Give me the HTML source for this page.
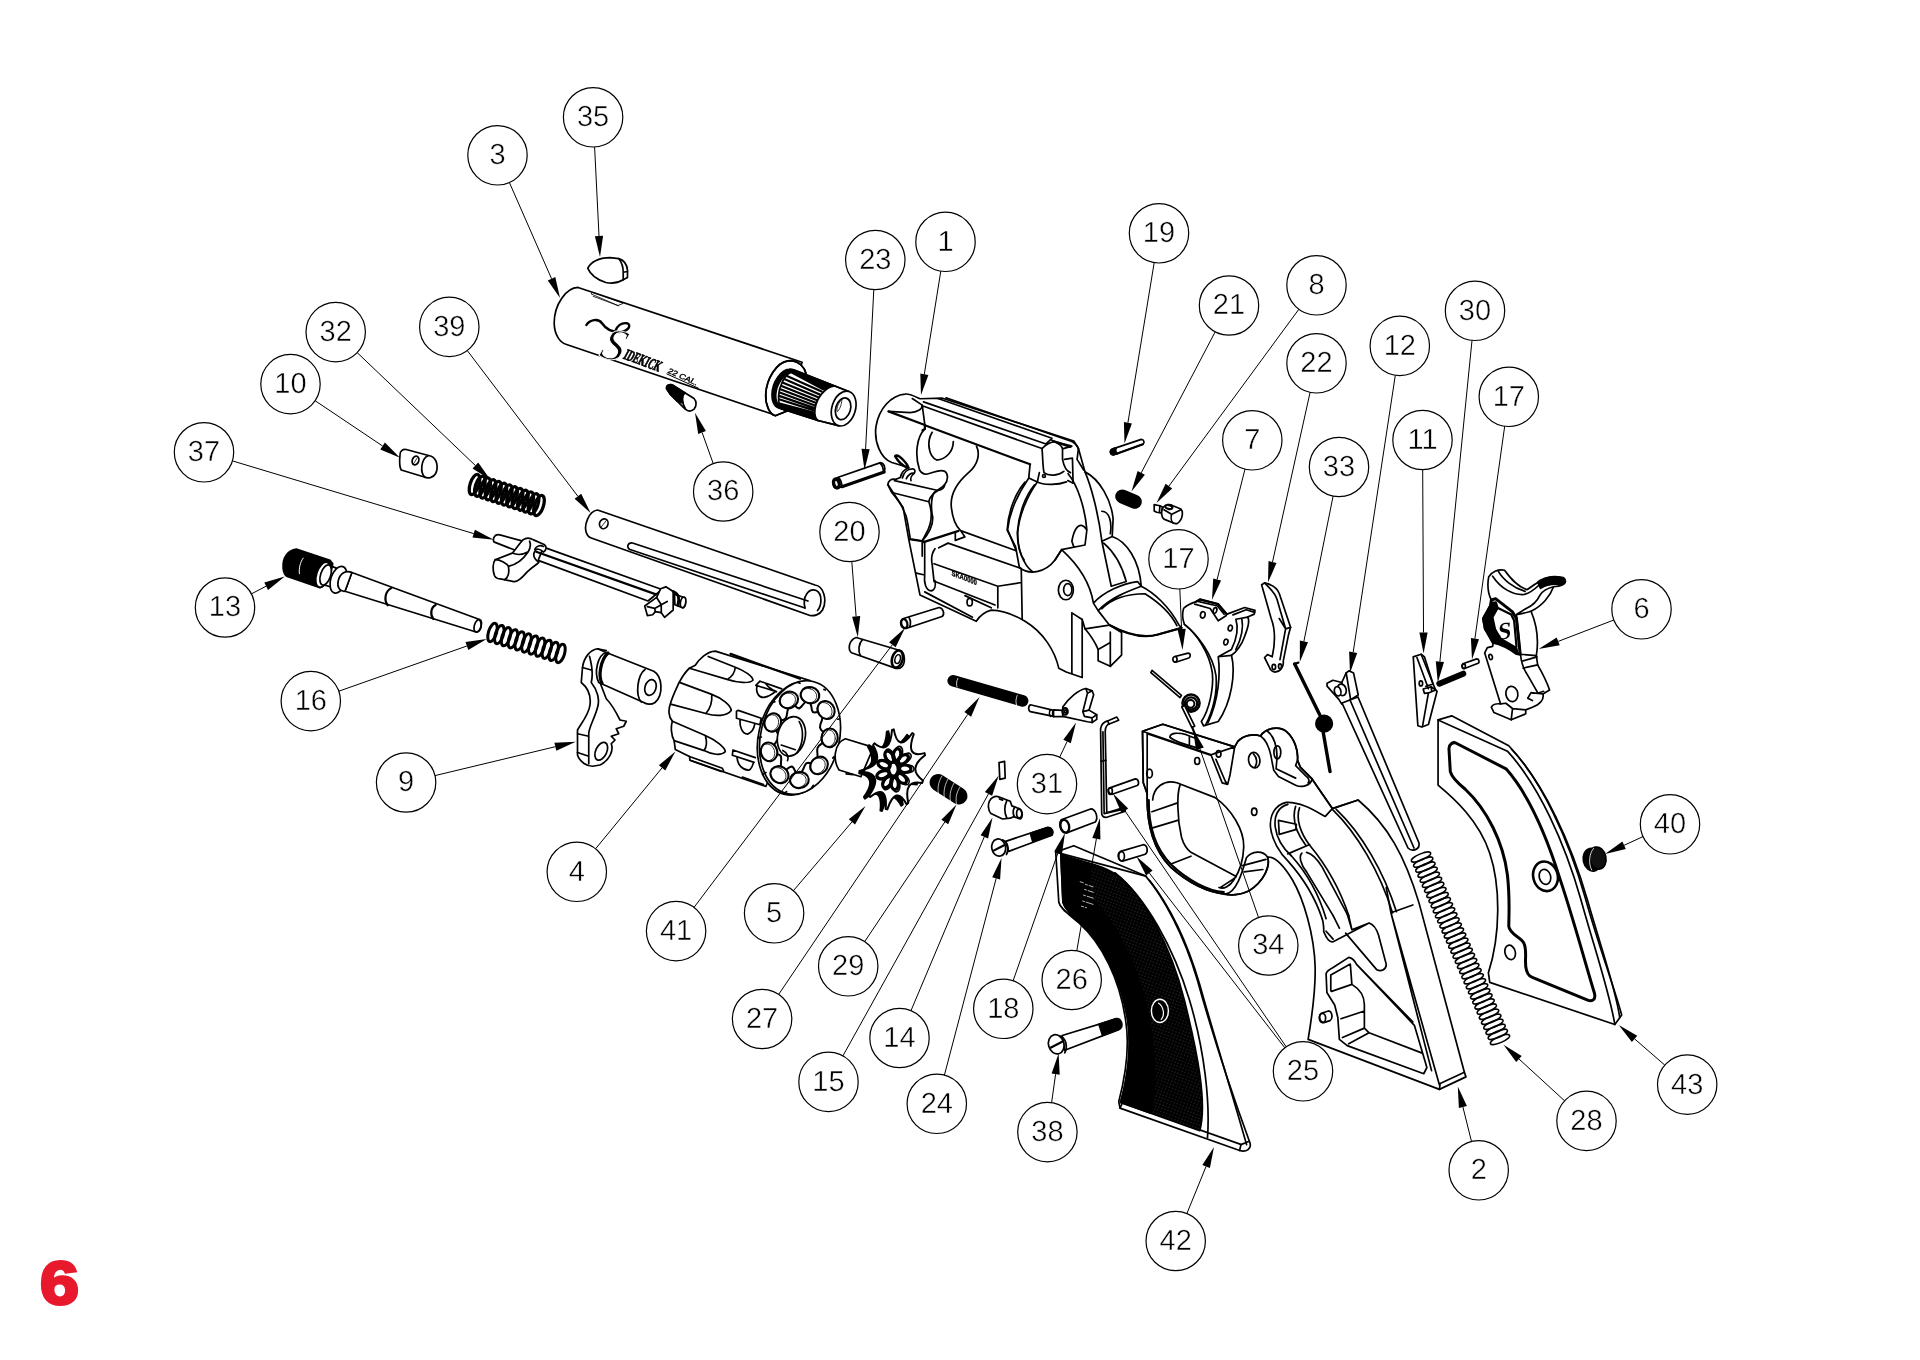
<!DOCTYPE html>
<html lang="en"><head><meta charset="utf-8"><title>Exploded view - page 6</title>
<style>
html,body{margin:0;padding:0;background:#fff}
body{width:1920px;height:1360px;overflow:hidden;position:relative;font-family:"Liberation Sans",sans-serif}
svg{position:absolute;left:0;top:0;display:block;filter:grayscale(1)}
.p path,.p ellipse,.p circle,.p line,.p polyline,.p polygon,.p rect{vector-effect:non-scaling-stroke}
.p{fill:none;stroke:#000;stroke-width:1.7;stroke-linejoin:round;stroke-linecap:round}
.p .w{fill:#fff}
.p .k{fill:#000}
.p .t{stroke-width:.8}
.p .h{stroke-width:2.2}
.ld line{stroke:#000;stroke-width:1}
.ld polygon{fill:#000;stroke:none}
.co{opacity:.999}
.co circle{fill:#fff;stroke:#000;stroke-width:1.2}
text{text-rendering:geometricPrecision}
.co text{font-family:"Liberation Sans",sans-serif;font-size:29px;fill:#000;text-anchor:middle;stroke:#fff;stroke-width:.45}
.pg{position:absolute;left:39.5px;top:1251.5px;font:bold 62px/1 "Liberation Sans",sans-serif;color:#e8192c;-webkit-text-stroke:3px #e8192c;transform:scaleX(1.13);transform-origin:0 0}
</style></head><body>
<svg width="1920" height="1360" viewBox="0 0 1920 1360">

<!-- 01_frame.svg -->
<g class="p" transform="translate(860,380) scale(0.1875)">
<!-- 1 frame silhouette -->
<path class="w" d="M240,75 C265,72 295,88 320,100 L440,97 L1140,325 L1165,365 L1200,490 C1280,530 1340,640 1350,740 L1345,835 C1420,860 1490,960 1500,1100 C1570,1135 1650,1210 1700,1305 L1715,1322 L1590,1357 C1500,1385 1400,1345 1330,1307 L1395,1347 L1395,1467 L1335,1527 L1270,1497 L1270,1437 C1250,1390 1220,1350 1200,1327 L1185,1277 L1185,1587 L1100,1557 L1060,1537 C1040,1447 980,1347 880,1287 C820,1250 760,1228 700,1227 C670,1235 640,1255 620,1287 L320,1147 L260,850 L230,680 L150,560 C148,540 165,525 190,530 L215,520 C220,495 240,475 262,468 L170,440 C110,420 75,330 85,250 C100,150 170,80 240,75 Z"/>
<path d="M262,850 L345,862 L345,1040 M300,1030 L345,1040 C340,1080 350,1120 380,1125 C400,1120 405,1095 400,1070"/>
<!-- recoil shield -->
<path d="M880,545 C830,600 790,700 785,800 L830,890 L850,1000 C900,1040 985,1032 1040,960 L1075,905 L1200,880 M930,560 C880,620 845,720 840,810 C840,900 870,985 920,1022 M1110,500 C1160,560 1200,680 1210,800 L1200,880 M1200,490 C1230,560 1270,700 1290,860 L1345,835 M1210,800 C1170,740 1140,800 1130,860 L1140,890 M1290,700 C1330,700 1345,760 1335,820"/>
<path d="M1290,860 L1340,1100 L1420,1075 C1400,1000 1370,930 1300,870"/>
<!-- lower block -->
<path d="M470,870 L860,1005 L865,1275 M400,900 C385,920 378,950 385,985 L395,1075 M395,980 L735,1100 L860,1080 M735,1100 L735,1215 M400,1075 L720,1200 M345,1130 L600,1265 M560,1150 L700,1215 M420,895 L470,870"/>
<ellipse cx="585" cy="1185" rx="14" ry="20"/>
<!-- right side plate -->
<path d="M1075,905 C1180,1000 1230,1100 1245,1190 L1270,1230 C1340,1160 1420,1130 1500,1100 M1040,960 L1075,905 M1245,1190 C1300,1130 1400,1085 1480,1075 L1500,1100 M1270,1230 L1330,1307 M1290,1220 C1350,1160 1440,1140 1520,1140 C1600,1190 1660,1250 1690,1310"/>
<path class="h" d="M1330,1307 C1400,1345 1500,1385 1590,1357 L1715,1322"/>
<ellipse cx="1098" cy="1120" rx="40" ry="52"/><ellipse cx="1108" cy="1118" rx="22" ry="32"/>
<!-- lugs -->
<path d="M1130,1242 L1185,1277 M1130,1242 L1130,1565 M1200,1327 L1330,1307 M1335,1345 L1335,1527 M1270,1437 L1335,1400"/>
</g>
<g class="p" transform="translate(860,380) scale(0.13236)">
<!-- upper frame detail (U coords) -->
<path d="M395,140 L470,190 C472,220 430,245 380,247 L215,237"/>
<path class="h" d="M215,237 L490,340 L490,370 L472,380"/>
<path d="M470,190 L490,340 M650,135 L1600,465 C1630,480 1645,500 1650,520 M590,140 L1450,440 M480,165 L1405,483 M470,195 L1375,518"/>
<path class="h" d="M490,342 L1285,637"/>
<path d="M1375,518 C1380,560 1380,650 1390,700 C1430,730 1500,722 1540,690 M1375,518 C1400,490 1440,470 1470,465 M1440,450 L1470,465 L1600,500 M1405,483 L1440,450 M1650,520 L1640,600 L1690,680 M1530,520 L1530,600 C1540,650 1560,690 1590,700 M1545,600 L1605,590 L1610,780 L1570,760 M1470,465 C1500,480 1525,500 1530,520 L1600,500"/>
<path class="h" d="M1460,462 L1590,505"/>
<path d="M1285,637 L1275,740 L1340,770 L1355,700 M1340,770 C1380,790 1480,800 1560,770"/>
<circle cx="1390" cy="725" r="11"/>
<path d="M490,370 C430,430 410,560 450,680 C460,700 480,710 500,712 C560,700 600,670 640,690 C670,710 665,760 640,790 C620,820 580,830 560,850 C530,900 540,1000 550,1040 C550,1100 520,1160 470,1215"/>
<path d="M545,395 C500,470 520,580 580,605 C650,600 705,540 705,465 M520,500 l6,22"/>
<path d="M880,500 C910,560 890,640 820,700 C740,770 680,860 690,960 C700,1060 730,1110 760,1138 L1180,1290 M720,1150 L720,1212 L792,1185 L760,1138"/>
<path class="h" d="M480,1225 L745,1140"/>
<path d="M1275,740 C1200,850 1130,1000 1115,1130 L1180,1290 M1340,770 C1260,880 1200,1030 1190,1160 C1190,1250 1210,1320 1240,1360"/>
<path style="stroke-width:2.4" d="M265,575 C280,560 310,585 340,620 C365,650 370,665 355,660 C330,650 290,620 265,575 Z"/>
<path d="M320,740 C330,700 360,670 400,672 C415,675 420,690 410,705 C390,720 380,745 385,760 M350,745 C360,720 385,700 410,705"/>
<path d="M260,760 L590,835 C620,830 640,810 640,790 M210,790 L240,850 L520,920 C520,890 560,850 590,835 M240,850 C300,920 350,1000 360,1080 L380,1200 M520,920 C545,990 545,1080 500,1160 L470,1215 M380,1200 L470,1215 L470,1330"/>
</g>
<text transform="translate(951.5,575.5) rotate(21) skewX(18)" textLength="27" lengthAdjust="spacingAndGlyphs" style="font:bold 7.2px 'Liberation Sans',sans-serif;fill:#000;stroke:#000;stroke-width:.3">SKA0000</text>

<!-- 02_gripframe.svg -->
<g class="p" transform="translate(1130,700) scale(0.15625)">
<!-- silhouette fill -->
<path class="w" d="M80,200 L210,155 L670,300 L690,265 C730,225 790,215 835,230 C870,175 960,165 1005,205 C1050,245 1078,320 1072,385 L1090,430 L1165,505 L1295,695 L1460,640 C1650,800 1760,1000 1850,1300 L2140,2382 L2150,2412 L1980,2492 L1140,2172 C1160,2052 1188,1852 1185,1712 C1180,1502 1110,1272 1040,1152 C990,1070 930,1000 880,1005 C900,1060 860,1160 760,1222 C700,1250 640,1250 610,1242 C500,1235 370,1170 260,1070 C150,960 105,800 110,600 L85,530 Z"/>
<!-- trigger guard opening (white already) -->
<path d="M110,600 C105,800 150,960 260,1070 C370,1170 500,1235 610,1242 C680,1235 720,1100 745,1010 C780,965 850,960 880,1005 C900,1060 860,1160 760,1222 C700,1250 640,1250 600,1242"/>
<path class="h" d="M120,640 C118,800 160,950 265,1055 C370,1155 500,1222 600,1230"/>
<path d="M145,640 C150,560 220,505 300,530 L545,625 C650,700 730,830 728,940 C725,1020 700,1100 665,1150 C640,1190 600,1215 570,1200 M320,545 C300,600 300,750 330,880 C345,930 370,960 390,975 L680,1130 M140,715 L300,660 M140,820 L305,770 M262,1050 L390,1000 M720,1060 L870,1020 M730,1100 L850,1085 M580,1200 C620,1170 660,1150 680,1130"/>
<!-- front box -->
<path d="M80,200 L210,155 L670,300 L640,480 L625,540 L590,530 L520,355 L110,215 M80,200 L520,350 L560,335 M80,200 L85,530 L110,600 M110,215 L110,600 M520,350 L670,300 M550,380 L610,520 L625,540"/>
<path d="M255,238 C258,212 300,205 360,222 L430,250 L440,300 M380,232 L380,290 M255,238 C275,260 330,280 440,310"/>
<ellipse cx="430" cy="390" rx="16" ry="22"/><ellipse cx="567" cy="345" rx="15" ry="21"/><ellipse cx="125" cy="470" rx="18" ry="28"/>
<!-- ears + slot -->
<path d="M670,300 L690,265 C730,225 790,215 835,230 C880,260 900,330 910,400 L920,450 L950,490 L1060,545 C1090,560 1140,555 1160,520 L1165,505 M835,230 C870,175 960,165 1005,205 C1050,245 1078,320 1072,385 L1090,430 L1165,505 M880,200 C920,230 945,300 940,380 L935,440 M1072,385 L1060,420 L1130,490 C1145,500 1150,520 1140,530 M935,440 L1060,500"/>
<ellipse cx="795" cy="385" rx="36" ry="50" transform="rotate(-8 795 385)"/><path d="M790,345 C815,370 815,405 800,430"/>
<ellipse cx="943" cy="335" rx="22" ry="42"/>
<ellipse cx="795" cy="715" rx="17" ry="23"/>
<!-- grip straps upper -->
<path d="M1165,505 L1295,695 L1460,640 M1250,745 L1295,695 M1000,655 C1100,650 1200,720 1250,745 M1000,655 C930,670 890,740 900,820 C910,900 960,980 1010,1030 C1100,1130 1180,1250 1230,1400 M1010,668 C945,685 920,745 930,815 C940,890 985,955 1035,1000 C1125,1100 1205,1230 1255,1400 M1085,690 C1060,760 1090,850 1150,930 C1250,1050 1340,1200 1400,1380 M1060,680 C1035,760 1065,850 1125,930 M1300,705 C1450,850 1600,1100 1680,1362 M1320,700 C1480,850 1625,1100 1705,1355 M950,770 L955,860 L1060,830 L1065,795 Z M1010,985 L1150,925"/>
<path d="M1100,980 C1080,1000 1090,1050 1130,1100 L1300,1380 M1130,975 C1170,985 1200,1020 1230,1070 L1390,1370"/>
<!-- lower part (H coords shifted) -->
<path d="M1670,1362 L1810,1312 M1670,1362 L1980,2462 M1640,1200 L1670,1362 L1930,2372 M1980,2492 L1985,2455 L2140,2382 M1240,1482 C1260,1532 1280,1552 1300,1547 L1530,1427 C1560,1437 1580,1472 1590,1502 L1640,1692 C1640,1722 1610,1742 1580,1727 L1380,1492 M1255,1480 L1300,1530 M1530,1427 L1420,1470 L1400,1380 M1230,1400 C1240,1430 1240,1460 1240,1482 M1300,1380 L1340,1460 M1390,1370 L1420,1470"/>
<path d="M1255,1752 C1260,1732 1280,1722 1300,1712 L1400,1647 C1430,1652 1440,1672 1450,1692 L1820,2082 L1900,2352 L1880,2392 L1390,2212 L1340,2172 L1330,2032 L1310,1952 L1260,1872 Z M1285,1760 L1410,1690 L1420,1820 C1470,1850 1500,1890 1500,1950 L1500,2100 L1530,2130 L1870,2260 M1420,1820 L1290,1865 M1500,1990 L1350,2040 M1500,2100 L1360,2160 M1450,1692 L1810,2060 M1530,2130 L1400,2200 M1285,1760 L1285,1860"/>
<path class="w" d="M1225,2005 L1270,1990 C1295,1992 1300,2040 1280,2052 L1240,2065 C1210,2060 1205,2015 1225,2005 Z"/><ellipse cx="1232" cy="2035" rx="20" ry="30"/>
</g>

<!-- 03_barrel.svg -->
<g class="p" transform="translate(540,240) scale(0.17708)">
<!-- 35 front sight -->
<path class="w" d="M270,160 C285,125 330,100 395,100 L445,105 C475,115 492,140 494,170 L494,212 L470,224 C440,242 400,246 372,240 C325,225 285,195 270,160 Z"/>
<path d="M445,105 C460,125 470,150 470,182 L470,224 M470,182 L494,178"/>
<!-- 3 barrel body -->
<path class="w" d="M215,268 C150,270 80,360 80,470 C82,540 115,580 150,590 L1330,990 L1400,962 L1480,690 Z"/>
<path d="M290,305 L440,370 L470,358 L300,296 Z M300,318 L445,372" class="t"/>
<!-- logo script -->
<path style="stroke-width:2.4" d="M262,480 C280,450 330,440 350,470 C370,500 400,520 450,520 C500,515 520,480 490,470 C460,465 435,485 425,515"/>
<!-- 36 detent -->
<path class="w" d="M715,840 C712,820 735,812 750,820 L870,895 C885,910 885,940 870,955 C855,968 835,968 820,955 L735,870 Z"/>
<path class="k" d="M715,840 C712,820 735,812 750,820 L815,862 C800,872 795,900 805,920 L775,910 L735,870 Z"/>
<path d="M818,862 C800,880 800,920 822,955"/>
</g>
<g class="p" transform="translate(740,340) scale(0.07353)">
<!-- barrel shoulder + thread, 13.6x coords -->
<path class="w" d="M650,285 C500,310 360,520 350,740 C345,880 400,1010 480,1030 L640,965 L900,460 C880,370 800,290 700,280 Z"/>
<path d="M650,285 C500,310 360,520 350,740 C345,880 400,1010 480,1030 L640,965 M650,285 L700,280 C800,290 880,370 900,460"/>
<path class="k" d="M760,420 C720,395 690,392 670,397 C560,410 440,560 435,740 C435,850 480,920 560,935 L640,965 L560,900 C510,880 483,830 485,750 C490,600 600,450 700,440 Z"/>
<path class="w" d="M740,410 L1290,625 C1150,640 1040,800 1020,940 C1010,1020 1030,1070 1060,1095 L560,935 C540,910 522,850 525,760 C530,640 600,480 690,440 Z"/>
<path class="k" d="M690,440 L760,418 L1290,625 L1130,672 Z M540,862 L560,935 L1060,1095 L1005,985 Z"/>
<path class="h" d="M640,490 L1110,700 M610,535 L1085,740 M585,580 L1065,780 M565,625 L1050,820 M550,670 L1038,858 M540,715 L1028,895 M533,760 L1022,930 M530,805 L1018,960"/>
<path class="w" d="M1290,625 L1480,700 L1340,1165 L1060,1095 C1030,1070 1010,1020 1020,940 C1040,800 1150,640 1290,625 Z"/>
<path d="M1290,625 L1480,700 M1060,1095 L1340,1165"/>
<ellipse class="w" cx="1410" cy="932" rx="160" ry="243" transform="rotate(17 1410 932)"/>
<ellipse cx="1402" cy="935" rx="100" ry="152" transform="rotate(17 1402 935)"/>
<path d="M1385,810 C1340,850 1310,920 1320,975 C1350,960 1385,880 1385,810 Z" class="t"/>
</g>
<text transform="translate(622.6,358.2) rotate(20.5) skewX(-8)" textLength="38.5" lengthAdjust="spacingAndGlyphs" style="font:bold 15.5px 'Liberation Serif',serif;fill:#000;stroke:#000;stroke-width:.8">IDEKICK</text>
<text transform="translate(667,372.6) rotate(24) skewX(-8)" textLength="32" lengthAdjust="spacingAndGlyphs" style="font:7.6px 'Liberation Sans',sans-serif;fill:#000;stroke:#000;stroke-width:.35">22 CAL.</text>
<path d="M666.5,373.8 L698.5,388.2" style="stroke:#000;stroke-width:1"/>
<text transform="translate(598,356.5) rotate(14) skewX(-6)" style="font:italic 46px 'Liberation Serif',serif;fill:#000;stroke:#fff;stroke-width:.9">S</text>

<!-- 04_cyl.svg -->
<g class="p" transform="translate(660,640) scale(0.11765)">
<!-- 4 cylinder body (C coords) -->
<path class="w" d="M470,95 C400,98 335,160 300,215 L250,240 C215,270 190,310 162,362 C135,420 100,490 88,545 C70,590 70,650 105,690 C90,740 95,810 120,855 L130,930 L250,990 L255,1022 L900,1245 L1275,345 Z"/>
<path d="M410,140 L640,232 C720,262 790,310 790,342 C760,372 660,365 570,335 L250,240 M640,232 C635,285 600,320 570,335"/>
<path d="M165,360 L440,462 C530,495 605,560 605,600 C570,650 470,650 390,625 L90,545 M440,462 C445,530 420,590 390,625"/>
<path d="M105,690 L385,812 C470,850 555,910 555,950 C520,985 440,975 375,940 L120,855 M385,812 C400,860 395,910 375,940"/>
<path class="h" d="M600,118 L1190,330"/>
<path d="M250,990 L530,1090 L540,1112 M255,1022 L520,1118 M700,1165 L880,1228"/>
<path d="M850,350 L1035,415 M815,385 L850,350 M815,385 L990,440 M825,392 C812,440 835,490 885,488 C930,478 965,452 985,436 M900,372 C920,400 940,420 985,436"/>
<path d="M650,605 L665,598 L860,665 L850,720 L650,665 Z M680,680 C675,740 700,800 745,800 C790,780 800,750 805,715"/>
<path d="M620,935 L810,1000 M620,935 L615,980 L800,1040 M655,1000 C660,1060 700,1110 760,1105 C780,1090 790,1060 795,1040"/>
</g>

<!-- 06_hammer.svg -->
<g class="p" transform="translate(1400,555) scale(0.13236)">
<!-- 11 -->
<path class="w" d="M100,770 L160,750 L185,770 L250,975 L270,1020 L280,1030 L215,1280 L165,1300 L135,1290 Z"/>
<path d="M128,775 L215,1010 M160,750 L250,975 L195,992 M175,1012 L235,995 L270,1020 L215,1042 L185,1046 Z M215,1042 L170,1295 M235,995 L240,1030"/>
<ellipse cx="158" cy="970" rx="13" ry="19"/>
<!-- 30 -->
<path d="M297,972 L478,897" style="stroke-width:6"/>
<!-- 17 -->
<path class="w" d="M475,822 L580,785 C598,785 602,810 590,818 L488,858 C468,858 462,832 475,822 Z"/><ellipse cx="482" cy="840" rx="12" ry="18"/>
<!-- 6 hammer -->
<path class="w" d="M670,165 C690,130 740,105 790,115 C830,170 880,235 960,262 C1010,225 1070,180 1140,165 C1200,158 1252,175 1250,202 C1245,228 1200,236 1160,240 C1135,310 1075,385 990,425 C1030,520 1050,640 1030,760 L1040,830 C1080,900 1110,960 1130,1020 L1080,1050 C1090,1090 1060,1130 1000,1150 L950,1170 L950,1200 L840,1245 L710,1190 L690,1150 C700,1130 730,1120 760,1125 L640,740 L660,700 L700,690 L705,655 L640,560 L625,480 L680,380 L690,340 C660,280 660,220 670,165 Z"/>
<path d="M700,160 C760,250 850,305 940,298 C1000,282 1030,245 1060,218 M740,118 C780,190 860,250 945,275 M1160,240 C1120,250 1080,270 1060,300 C1040,340 1010,380 960,400 L880,450 M880,450 C930,440 970,432 990,425 M880,450 L910,750 C915,800 925,850 960,900 L1040,1040 M910,750 L1030,760 M930,800 L1035,770 M930,855 L1040,830 M1080,1050 L990,1040 L965,1082 L1000,1100 M950,1170 L850,1160 L840,1245 M850,1160 L800,1120 L760,1125 M990,1040 C1020,1050 1060,1040 1085,1030"/>
<path class="k" d="M1040,205 C1080,172 1160,155 1232,170 C1258,185 1250,218 1220,222 C1160,215 1100,225 1062,252 Z"/>
<path style="stroke-width:3;fill:#fff" d="M690,340 L722,330 L850,430 L880,482 L908,750 L880,745 C820,700 760,672 702,660 L646,560 L632,482 L686,385 Z"/>
<path class="k" d="M700,360 L725,355 L740,400 L700,470 L720,560 L760,630 L880,700 L890,740 C830,690 770,670 710,650 L655,555 L645,485 Z"/>
<path style="stroke-width:2.2" d="M740,400 L840,450 L862,495 L880,690"/>
<ellipse class="w" cx="845" cy="1050" rx="45" ry="58" transform="rotate(-10 845 1050)"/>
<ellipse cx="685" cy="770" rx="13" ry="20" transform="rotate(-15 685 770)"/>
</g>
<text transform="translate(1497.5,640) rotate(-8) skewX(-12)" style="stroke:#000;stroke-width:.8;font:bold 24px 'Liberation Serif',serif;fill:#000;stroke:none">S</text>

<!-- 07_trigger.svg -->
<g class="p" transform="translate(1130,570) scale(0.14706)">
<!-- 17 pin -->
<path class="w" d="M300,590 L395,565 C412,565 415,590 400,598 L310,627 C290,627 285,600 300,590 Z"/>
<path d="M312,588 C322,600 322,615 312,626"/>
<!-- 7 trigger -->
<path class="w" d="M365,260 C380,245 420,225 450,215 L475,200 L600,232 L660,300 L780,255 L850,275 L845,300 L800,320 C815,340 800,400 780,450 C760,510 720,560 690,580 C720,700 690,900 600,1030 L500,1060 L485,1030 C540,950 570,800 560,700 C540,560 450,430 370,370 C355,330 355,290 365,260 Z"/>
<path d="M440,232 L545,262 L600,345 L655,310 M370,370 C460,440 565,580 585,720 C595,830 565,960 515,1052 M600,590 L690,580 M600,590 C615,700 605,880 530,1040 M700,305 L790,270 L848,288 M720,335 L800,320 M720,335 C740,400 720,480 690,540 L600,590 M760,330 C775,400 750,480 720,540 M455,212 L595,245 L640,300"/>
<path class="h" d="M450,215 L475,200 L600,232 L655,300"/>
<ellipse cx="495" cy="305" rx="16" ry="22" transform="rotate(15 495 305)"/><ellipse cx="578" cy="275" rx="12" ry="20" transform="rotate(15 578 275)"/><ellipse cx="682" cy="395" rx="14" ry="20" transform="rotate(15 682 395)"/><ellipse cx="652" cy="490" rx="14" ry="20" transform="rotate(15 652 490)"/>
<!-- 22 -->
<path class="w" d="M895,100 L915,88 C960,98 1000,120 1015,160 L1092,390 L1078,440 L1042,620 C1047,660 1022,692 985,694 C960,692 950,672 945,655 L915,595 L935,575 L967,590 C987,500 987,400 960,330 Z"/>
<path d="M915,88 C945,120 985,150 1000,200 L1058,400 L1020,610 M1092,390 L1058,400 M1015,330 L1058,400"/>
<ellipse cx="978" cy="660" rx="12" ry="18"/><ellipse cx="1020" cy="655" rx="10" ry="16"/>
<!-- 33 rod -->
<path d="M1115,640 L1145,630" class="h"/>
<path d="M1120,640 L1295,995 L1360,1370" style="stroke-width:3.4"/>
<circle class="k" cx="1320" cy="1045" r="56"/>
<!-- 12 -->
<path class="w" d="M1340,770 L1380,750 L1440,765 L1470,700 L1490,685 L1520,700 L1552,850 L1500,882 L1440,912 L1420,880 L1340,790 Z"/>
<path d="M1470,700 L1500,880 M1440,765 L1450,800"/>
<ellipse class="w" cx="1440" cy="815" rx="30" ry="40" transform="rotate(-15 1440 815)"/><ellipse class="w" cx="1412" cy="825" rx="22" ry="32" transform="rotate(-15 1412 825)"/>
<!-- 34 torsion spring -->
<path class="w" d="M150,682 L350,852 L340,868 L142,698 Z"/>
<circle cx="415" cy="905" r="58" style="stroke-width:2.6"/><circle cx="415" cy="908" r="42" style="stroke-width:2.2"/><circle cx="412" cy="910" r="26" style="stroke-width:2"/>
<path class="w" d="M352,930 L420,1070 L440,1062 L372,922 Z"/>
<path d="M425,1075 L470,1190" class="h"/>
</g>
<!-- 12 long bar & 33 tail in real coords -->
<g class="p">
<path class="w" d="M1342,703 L1408,848 C1412,852 1420,850 1419,843 L1358,697 Z"/>
<path d="M1350,700 L1414,848"/>
</g>

<!-- 10_left.svg -->
<g class="p" transform="translate(380,430) scale(0.25)">
<!-- 10 -->
<path class="w" d="M80,100 C78,85 92,75 105,78 L205,105 C228,115 235,150 222,175 C212,192 192,195 177,188 L85,160 C78,150 78,120 80,100 Z"/>
<path d="M192,103 C165,115 158,170 180,189"/>
<ellipse cx="142" cy="122" rx="13" ry="18" transform="rotate(20 142 122)"/><path class="t" d="M134,135 L150,110"/>
<!-- 39 tube -->
<path class="w" d="M870,320 C835,325 815,380 825,410 C830,425 838,430 845,432 L1720,742 C1735,745 1758,740 1770,720 C1790,680 1775,625 1740,620 Z"/>
<path d="M1010,452 L1712,684 M1000,478 L1700,712 M1010,452 C990,450 985,470 1000,478"/>
<path d="M1700,712 C1688,665 1715,632 1745,642 C1770,655 1768,700 1750,722"/>
<ellipse cx="895" cy="375" rx="17" ry="20" transform="rotate(20 895 375)"/><path class="t" d="M885,388 L905,362"/>
<!-- 9 crane -->
<path class="w" d="M870,875 C840,880 815,910 810,950 L805,1010 C830,1030 845,1060 840,1100 C835,1140 800,1180 790,1200 L790,1300 C800,1330 830,1345 850,1345 L880,1340 C920,1320 935,1280 925,1255 L940,1240 L925,1225 L955,1215 L945,1195 L975,1185 L985,1165 L960,1160 C945,1130 925,1095 905,1075 L880,1010 L905,890 Z"/>
<path d="M870,875 L905,882 M838,905 C850,950 850,990 845,1010 C870,1040 880,1080 870,1110 C860,1150 835,1190 835,1215 L835,1335 M790,1215 L835,1225 M790,1290 L835,1305 M810,950 L845,960"/>
<ellipse cx="885" cy="1285" rx="22" ry="38" transform="rotate(25 885 1285)"/>
<path class="w" d="M905,890 L1095,965 C1130,985 1135,1060 1100,1090 C1085,1100 1065,1098 1055,1090 L875,1010 C855,970 870,900 905,890 Z"/>
<path d="M1060,958 C1030,980 1020,1060 1045,1088"/><path style="stroke-width:3.2" d="M912,892 C882,920 872,985 888,1012"/>
<ellipse cx="1082" cy="1030" rx="22" ry="32" transform="rotate(18 1082 1030)"/>
</g>

<!-- 13_rod.svg -->
<g class="p" transform="translate(260,520) scale(0.125)">
<path class="w" d="M735,420 L1740,790 C1778,802 1782,880 1735,898 L680,570 Z"/>
<ellipse cx="1742" cy="846" rx="27" ry="52" transform="rotate(18 1742 846)"/>
<path class="h" d="M1050,545 C1000,570 990,640 1022,682 M1405,680 C1365,700 1360,760 1387,792"/>
<path class="w" d="M500,340 L610,385 L580,540 L470,505 Z"/>
<ellipse class="w" cx="628" cy="478" rx="62" ry="110" transform="rotate(18 628 478)"/>
<path class="w" d="M735,420 C690,400 640,420 625,490 C615,540 640,575 680,570 Z"/>
<path class="k" d="M290,232 C225,238 178,305 185,385 C188,420 200,442 218,452 L480,542 C530,520 575,420 582,350 L560,322 Z"/>
<ellipse class="w" cx="505" cy="438" rx="52" ry="104" transform="rotate(18 505 438)"/>
<ellipse class="w" cx="525" cy="440" rx="40" ry="84" transform="rotate(18 525 440)"/>
<path d="M345,305 C320,340 310,390 315,430" style="stroke:#fff;stroke-width:1"/>
</g>

<!-- 23_pins.svg -->
<g class="p" transform="translate(820,440) scale(0.07294)">
<!-- 23 -->
<path class="w" d="M250,510 L830,310 C880,320 905,390 880,440 L230,665 C170,660 160,560 250,510 Z"/>
<path d="M300,640 L880,440" style="stroke-width:3.2"/>
<path d="M255,515 C280,540 300,590 300,640 M820,315 C850,340 870,390 868,440"/>
<ellipse cx="225" cy="595" rx="38" ry="62" transform="rotate(-15 225 595)" style="stroke-width:3.4"/>
</g>
<g class="p" transform="translate(1100,420) scale(0.08091)">
<!-- 19 -->
<path class="w" d="M150,360 L510,240 C545,240 555,285 530,300 L170,430 C125,430 115,380 150,360 Z"/>
<path class="k" d="M150,360 L200,345 C190,375 200,405 215,415 L170,430 C125,430 115,380 150,360 Z"/>
<path d="M215,415 L530,300" class="h"/>
<!-- 21 -->
<path d="M275,945 L430,1010" style="stroke-width:14"/>
<!-- 8 -->
<path class="w" d="M670,1045 L740,1060 L770,1075 L765,1150 L700,1140 L670,1125 Z"/><path d="M740,1060 L735,1140"/>
<path class="w" d="M770,1100 C790,1050 850,1030 900,1060 L1000,1100 C1030,1130 1025,1230 960,1275 C940,1285 920,1280 900,1270 L790,1225 C760,1200 755,1140 770,1100 Z"/>
<path d="M900,1160 L1000,1110 M885,1165 C875,1200 880,1250 900,1270 M790,1110 L885,1165"/>
<ellipse cx="850" cy="1075" rx="45" ry="24" transform="rotate(15 850 1075)" style="stroke-width:2.2"/>
</g>
<g class="p">
<!-- 41 pin -->
<path class="w" d="M903.5,618.5 L939,607.5 C943.5,608 945,614.5 942,616.5 L906,628.5 C900,628 899,621 903.5,618.5 Z"/>
<ellipse cx="904.3" cy="623.6" rx="3" ry="4.6" transform="rotate(-15 904.3 623.6)" style="stroke-width:2.2"/>
<path d="M909,617.5 C911,621 911,624 909.5,627"/>
</g>

<!-- 27_mid.svg -->
<g class="p" transform="translate(930,670) scale(0.15439)">
<!-- 27 spring -->
<path d="M150,70 L600,200" style="stroke-width:11.5"/>
<path d="M565,165 C555,185 555,210 560,225 M180,55 C170,75 170,95 175,110" style="stroke:#fff;stroke-width:.8"/>
<!-- 31 plunger + pawl -->
<path class="w" d="M650,225 L800,262 L800,300 L650,270 C635,262 635,235 650,225 Z"/>
<path class="w" d="M800,258 L860,262 L860,302 L800,302 Z"/><path d="M780,258 C772,270 772,290 780,300 M800,262 C792,272 792,290 800,300"/>
<path class="w" d="M860,240 C900,180 960,130 1010,120 L1050,135 L1060,160 L1030,260 L1080,290 L1080,320 L1050,340 L1020,335 L860,300 Z"/>
<path d="M1010,120 L1020,150 L990,270 L1000,300 L1050,310 M1050,135 L1020,150 M1050,310 L1080,290 M1050,310 L1050,340 M990,270 L1030,260"/>
<ellipse cx="875" cy="268" rx="17" ry="22" style="stroke-width:2.2"/><ellipse cx="878" cy="268" rx="7" ry="10"/>
<!-- 26 -->
<path class="w" d="M1105,380 C1110,350 1130,335 1150,330 L1210,305 L1222,325 L1165,348 C1140,355 1135,375 1135,400 L1145,925 L1260,890 L1265,915 L1140,955 C1120,955 1112,940 1112,925 Z"/>
<path d="M1120,400 L1128,930 M1108,590 L1140,585 M1150,330 L1160,350 M1128,930 L1262,900"/>
<!-- 25 upper pin -->
<path class="w" d="M1160,765 L1330,705 C1352,705 1357,740 1342,748 L1180,805 C1155,802 1148,775 1160,765 Z"/><ellipse cx="1168" cy="785" rx="13" ry="21"/>
<!-- 18 tube -->
<path class="w" d="M850,970 L1040,900 C1075,900 1092,960 1070,985 L885,1055 C850,1050 830,1000 850,970 Z"/>
<ellipse cx="873" cy="1012" rx="28" ry="42" transform="rotate(-12 873 1012)" style="stroke-width:2.4"/>
<!-- 24 screw -->
<path class="w" d="M490,1110 L760,1020 L790,1070 L510,1175 Z"/>
<path d="M650,1058 L760,1020 C790,1015 805,1050 790,1068 L665,1110 Z" class="k"/>
<ellipse class="w" cx="445" cy="1150" rx="45" ry="56" transform="rotate(-12 445 1150)"/><path class="h" d="M412,1170 L480,1135"/>
<path d="M470,1100 C505,1115 515,1160 495,1195"/>
<!-- 14 -->
<path class="w" d="M385,850 C395,825 420,815 440,820 L520,850 L530,880 L570,895 C600,905 605,950 585,965 L540,950 L520,960 L470,965 L395,930 C375,910 375,870 385,850 Z"/>
<path d="M497,848 C482,880 482,925 497,958 M547,890 C537,910 537,935 547,950 M450,835 l20,8"/>
<ellipse cx="578" cy="930" rx="17" ry="28"/>
<!-- 15 -->
<path class="w" d="M447,600 L483,592 L487,700 L452,708 Z"/>
</g>
<g class="p">
<!-- 29 spring -->
<path d="M938,782.5 L959,796" style="stroke-width:17"/>
<path d="M942,776 C938,782 937,790 939,796 M948,779 C944,786 943,794 945,800 M954,783 C950,790 949,797 951,803 M960,787 C956,793 955,800 957,806" style="stroke:#fff;stroke-width:.7"/>
</g>

<!-- 37_rod.svg -->
<g class="p" transform="translate(470,520) scale(0.13236)">
<!-- 37 -->
<path class="w" d="M185,125 C195,110 210,108 225,112 L420,165 L370,240 L180,165 C175,150 178,135 185,125 Z"/>
<path class="w" d="M555,205 L1450,525 L1345,612 L515,305 Z"/>
<path style="stroke-width:2.2" d="M500,240 L1405,562"/>
<path class="w" d="M400,150 C425,132 455,135 480,150 L560,185 C582,200 578,228 555,242 C530,215 500,215 490,235 C475,260 480,290 520,320 C500,340 455,365 420,405 C385,445 355,470 330,465 L230,445 C210,445 195,438 185,420 C170,380 170,325 190,300 L320,250 C345,225 370,180 400,150 Z"/>
<path d="M190,300 C230,300 280,330 290,350 C300,400 285,440 262,450 M320,250 C360,268 400,262 440,240 M290,350 C340,340 400,300 440,240 M490,222 C500,196 530,186 555,200 M440,240 C455,215 460,185 450,160"/>
<path class="w" d="M1320,650 L1410,585 L1440,520 L1480,505 L1535,540 L1535,680 L1470,735 L1445,700 L1400,692 L1380,716 L1340,722 Z"/>
<path d="M1340,655 L1395,668 L1400,692 M1395,668 L1445,640 L1445,700 M1410,585 L1445,640 L1490,615"/>
<path class="w" d="M1545,560 L1605,582 C1635,598 1635,650 1610,664 L1548,640 Z"/>
<ellipse class="w" cx="1610" cy="622" rx="20" ry="40" transform="rotate(12 1610 622)"/>
<path style="stroke-width:2.8" d="M1535,540 C1572,552 1588,592 1570,645"/>
</g>

<!-- 42_grip.svg -->
<defs><pattern id="dots" width="3.2" height="3.2" patternUnits="userSpaceOnUse" patternTransform="rotate(20) scale(3.89)"><rect width="3.2" height="3.2" fill="#000"/><circle cx="1.6" cy="1.6" r=".5" fill="#fff" fill-opacity=".32"/></pattern></defs>
<g class="p" transform="translate(1030,820) scale(0.25723)">
<!-- 25 lower pin -->
<path class="w" d="M352,122 L440,96 C458,98 460,125 448,133 L360,160 C340,158 338,130 352,122 Z"/><ellipse cx="356" cy="141" rx="11" ry="18"/>
<!-- 42 grip -->
<path class="w" d="M100,125 L170,100 L450,218 C520,300 600,450 650,620 C700,800 780,1050 855,1255 C862,1278 842,1292 815,1285 L350,1120 L345,1095 C375,980 388,880 372,780 C350,620 280,480 190,400 C150,365 118,345 112,320 Z"/>
<path d="M100,125 L450,218 M465,235 C540,330 610,470 660,640 C710,820 785,1060 842,1262 M330,205 C450,300 560,500 620,700 C680,900 700,1100 690,1235 M815,1285 L820,1262 L850,1250 M350,1120 L360,1098 L822,1262"/>
<path d="M120,135 L128,320 C135,345 160,370 195,400 C285,480 355,620 380,780 C395,880 380,1000 352,1098 L660,1208 C690,1100 650,900 600,700 C550,500 450,300 335,212 C295,185 250,172 120,135 Z" style="fill:url(#dots);stroke:#000"/>
<path d="M120,135 L128,320 C135,345 160,370 195,400 C285,480 355,620 380,780 C395,880 380,1000 352,1098 L470,1140 C500,1000 480,800 430,640 C380,480 300,360 230,300 L230,170 Z" class="k"/>
<ellipse cx="505" cy="742" rx="33" ry="45" style="fill:#000;stroke:#fff;stroke-width:1.4"/><path d="M500,712 C520,725 525,760 510,775" style="stroke:#fff;stroke-width:1.2"/>
<path d="M195,240 l12,4 M215,250 l30,10 M212,270 l34,11 M208,292 l38,12 M205,315 l40,13 M200,335 l20,6" style="stroke:#fff;stroke-width:.9;stroke-opacity:.8"/>
<!-- 38 screw -->
<path class="w" d="M125,838 L330,775 L345,815 L135,895 Z"/>
<path class="k" d="M268,794 L335,772 C355,770 365,800 350,812 L282,838 Z"/>
<ellipse class="w" cx="102" cy="872" rx="30" ry="38" transform="rotate(-15 102 872)"/><path class="h" d="M80,885 L125,862"/>
<path d="M118,840 C140,850 148,880 135,905"/>
</g>

<!-- 43_grip.svg -->
<g class="p" transform="translate(1400,690) scale(0.27197)">
<path class="w" d="M140,110 L190,95 L400,205 C520,330 620,550 680,760 C730,940 790,1100 815,1195 L790,1230 L330,1075 L325,1040 C370,900 370,720 330,600 C290,480 200,400 140,350 Z"/>
<path d="M140,110 L395,225 C510,350 605,560 665,770 C715,950 770,1110 790,1230 M410,218 C530,345 630,565 690,775 C740,950 795,1105 808,1205"/>
<path style="stroke-width:3" d="M205,195 C195,190 180,200 180,215 L185,300 C190,320 210,340 240,365 C320,440 380,560 395,680 C405,770 400,830 400,870 C405,900 440,905 455,930 C470,960 455,1000 465,1030 C470,1050 480,1055 500,1062 L690,1140 C710,1148 720,1135 715,1115 C680,1000 640,850 590,700 C540,540 470,380 390,290 Z"/>
<ellipse cx="535" cy="685" rx="45" ry="55" transform="rotate(-15 535 685)" style="stroke-width:2.6"/><ellipse cx="533" cy="687" rx="21" ry="28" transform="rotate(-15 533 687)"/>
<ellipse cx="405" cy="965" rx="19" ry="27" transform="rotate(-15 405 965)"/>
<!-- 40 -->
<ellipse class="k" cx="706" cy="624" rx="32" ry="42" transform="rotate(-12 706 624)"/>
<ellipse cx="727" cy="618" rx="30" ry="41" transform="rotate(-12 727 618)" style="fill:#111;stroke:#000"/>
<path d="M712,582 C695,600 692,640 705,662" style="stroke:#fff;stroke-width:.8"/>
</g>

<g class="sp"><ellipse cx="474.5" cy="484.5" rx="4.4" ry="10.5" transform="rotate(18.0 474.5 484.5)" fill="none" stroke="#000" stroke-width="3.3"/>
<ellipse cx="479.9" cy="486.2" rx="4.4" ry="10.5" transform="rotate(18.0 479.9 486.2)" fill="none" stroke="#000" stroke-width="3.3"/>
<ellipse cx="485.2" cy="488.0" rx="4.4" ry="10.5" transform="rotate(18.0 485.2 488.0)" fill="none" stroke="#000" stroke-width="3.3"/>
<ellipse cx="490.6" cy="489.8" rx="4.4" ry="10.5" transform="rotate(18.0 490.6 489.8)" fill="none" stroke="#000" stroke-width="3.3"/>
<ellipse cx="496.0" cy="491.5" rx="4.4" ry="10.5" transform="rotate(18.0 496.0 491.5)" fill="none" stroke="#000" stroke-width="3.3"/>
<ellipse cx="501.4" cy="493.2" rx="4.4" ry="10.5" transform="rotate(18.0 501.4 493.2)" fill="none" stroke="#000" stroke-width="3.3"/>
<ellipse cx="506.8" cy="495.0" rx="4.4" ry="10.5" transform="rotate(18.0 506.8 495.0)" fill="none" stroke="#000" stroke-width="3.3"/>
<ellipse cx="512.1" cy="496.8" rx="4.4" ry="10.5" transform="rotate(18.0 512.1 496.8)" fill="none" stroke="#000" stroke-width="3.3"/>
<ellipse cx="517.5" cy="498.5" rx="4.4" ry="10.5" transform="rotate(18.0 517.5 498.5)" fill="none" stroke="#000" stroke-width="3.3"/>
<ellipse cx="522.9" cy="500.2" rx="4.4" ry="10.5" transform="rotate(18.0 522.9 500.2)" fill="none" stroke="#000" stroke-width="3.3"/>
<ellipse cx="528.2" cy="502.0" rx="4.4" ry="10.5" transform="rotate(18.0 528.2 502.0)" fill="none" stroke="#000" stroke-width="3.3"/>
<ellipse cx="533.6" cy="503.8" rx="4.4" ry="10.5" transform="rotate(18.0 533.6 503.8)" fill="none" stroke="#000" stroke-width="3.3"/>
<ellipse cx="539.0" cy="505.5" rx="4.4" ry="10.5" transform="rotate(18.0 539.0 505.5)" fill="none" stroke="#000" stroke-width="3.3"/><ellipse cx="492.5" cy="632.5" rx="4.0" ry="9.5" transform="rotate(17.2 492.5 632.5)" fill="none" stroke="#000" stroke-width="3.0"/>
<ellipse cx="499.3" cy="634.6" rx="4.0" ry="9.5" transform="rotate(17.2 499.3 634.6)" fill="none" stroke="#000" stroke-width="3.0"/>
<ellipse cx="506.1" cy="636.7" rx="4.0" ry="9.5" transform="rotate(17.2 506.1 636.7)" fill="none" stroke="#000" stroke-width="3.0"/>
<ellipse cx="512.9" cy="638.8" rx="4.0" ry="9.5" transform="rotate(17.2 512.9 638.8)" fill="none" stroke="#000" stroke-width="3.0"/>
<ellipse cx="519.7" cy="640.9" rx="4.0" ry="9.5" transform="rotate(17.2 519.7 640.9)" fill="none" stroke="#000" stroke-width="3.0"/>
<ellipse cx="526.5" cy="643.0" rx="4.0" ry="9.5" transform="rotate(17.2 526.5 643.0)" fill="none" stroke="#000" stroke-width="3.0"/>
<ellipse cx="533.3" cy="645.1" rx="4.0" ry="9.5" transform="rotate(17.2 533.3 645.1)" fill="none" stroke="#000" stroke-width="3.0"/>
<ellipse cx="540.1" cy="647.2" rx="4.0" ry="9.5" transform="rotate(17.2 540.1 647.2)" fill="none" stroke="#000" stroke-width="3.0"/>
<ellipse cx="546.9" cy="649.3" rx="4.0" ry="9.5" transform="rotate(17.2 546.9 649.3)" fill="none" stroke="#000" stroke-width="3.0"/>
<ellipse cx="553.7" cy="651.4" rx="4.0" ry="9.5" transform="rotate(17.2 553.7 651.4)" fill="none" stroke="#000" stroke-width="3.0"/>
<ellipse cx="560.5" cy="653.5" rx="4.0" ry="9.5" transform="rotate(17.2 560.5 653.5)" fill="none" stroke="#000" stroke-width="3.0"/><ellipse cx="1421.0" cy="857.0" rx="3.1" ry="10.5" transform="rotate(66.6 1421.0 857.0)" fill="none" stroke="#000" stroke-width="1.5"/>
<ellipse cx="1423.2" cy="862.1" rx="3.1" ry="10.5" transform="rotate(66.6 1423.2 862.1)" fill="none" stroke="#000" stroke-width="1.5"/>
<ellipse cx="1425.4" cy="867.1" rx="3.1" ry="10.5" transform="rotate(66.6 1425.4 867.1)" fill="none" stroke="#000" stroke-width="1.5"/>
<ellipse cx="1427.6" cy="872.2" rx="3.1" ry="10.5" transform="rotate(66.6 1427.6 872.2)" fill="none" stroke="#000" stroke-width="1.5"/>
<ellipse cx="1429.8" cy="877.3" rx="3.1" ry="10.5" transform="rotate(66.6 1429.8 877.3)" fill="none" stroke="#000" stroke-width="1.5"/>
<ellipse cx="1432.0" cy="882.3" rx="3.1" ry="10.5" transform="rotate(66.6 1432.0 882.3)" fill="none" stroke="#000" stroke-width="1.5"/>
<ellipse cx="1434.2" cy="887.4" rx="3.1" ry="10.5" transform="rotate(66.6 1434.2 887.4)" fill="none" stroke="#000" stroke-width="1.5"/>
<ellipse cx="1436.4" cy="892.5" rx="3.1" ry="10.5" transform="rotate(66.6 1436.4 892.5)" fill="none" stroke="#000" stroke-width="1.5"/>
<ellipse cx="1438.6" cy="897.6" rx="3.1" ry="10.5" transform="rotate(66.6 1438.6 897.6)" fill="none" stroke="#000" stroke-width="1.5"/>
<ellipse cx="1440.8" cy="902.6" rx="3.1" ry="10.5" transform="rotate(66.6 1440.8 902.6)" fill="none" stroke="#000" stroke-width="1.5"/>
<ellipse cx="1442.9" cy="907.7" rx="3.1" ry="10.5" transform="rotate(66.6 1442.9 907.7)" fill="none" stroke="#000" stroke-width="1.5"/>
<ellipse cx="1445.1" cy="912.8" rx="3.1" ry="10.5" transform="rotate(66.6 1445.1 912.8)" fill="none" stroke="#000" stroke-width="1.5"/>
<ellipse cx="1447.3" cy="917.8" rx="3.1" ry="10.5" transform="rotate(66.6 1447.3 917.8)" fill="none" stroke="#000" stroke-width="1.5"/>
<ellipse cx="1449.5" cy="922.9" rx="3.1" ry="10.5" transform="rotate(66.6 1449.5 922.9)" fill="none" stroke="#000" stroke-width="1.5"/>
<ellipse cx="1451.7" cy="928.0" rx="3.1" ry="10.5" transform="rotate(66.6 1451.7 928.0)" fill="none" stroke="#000" stroke-width="1.5"/>
<ellipse cx="1453.9" cy="933.0" rx="3.1" ry="10.5" transform="rotate(66.6 1453.9 933.0)" fill="none" stroke="#000" stroke-width="1.5"/>
<ellipse cx="1456.1" cy="938.1" rx="3.1" ry="10.5" transform="rotate(66.6 1456.1 938.1)" fill="none" stroke="#000" stroke-width="1.5"/>
<ellipse cx="1458.3" cy="943.2" rx="3.1" ry="10.5" transform="rotate(66.6 1458.3 943.2)" fill="none" stroke="#000" stroke-width="1.5"/>
<ellipse cx="1460.5" cy="948.2" rx="3.1" ry="10.5" transform="rotate(66.6 1460.5 948.2)" fill="none" stroke="#000" stroke-width="1.5"/>
<ellipse cx="1462.7" cy="953.3" rx="3.1" ry="10.5" transform="rotate(66.6 1462.7 953.3)" fill="none" stroke="#000" stroke-width="1.5"/>
<ellipse cx="1464.9" cy="958.4" rx="3.1" ry="10.5" transform="rotate(66.6 1464.9 958.4)" fill="none" stroke="#000" stroke-width="1.5"/>
<ellipse cx="1467.1" cy="963.5" rx="3.1" ry="10.5" transform="rotate(66.6 1467.1 963.5)" fill="none" stroke="#000" stroke-width="1.5"/>
<ellipse cx="1469.3" cy="968.5" rx="3.1" ry="10.5" transform="rotate(66.6 1469.3 968.5)" fill="none" stroke="#000" stroke-width="1.5"/>
<ellipse cx="1471.5" cy="973.6" rx="3.1" ry="10.5" transform="rotate(66.6 1471.5 973.6)" fill="none" stroke="#000" stroke-width="1.5"/>
<ellipse cx="1473.7" cy="978.7" rx="3.1" ry="10.5" transform="rotate(66.6 1473.7 978.7)" fill="none" stroke="#000" stroke-width="1.5"/>
<ellipse cx="1475.9" cy="983.7" rx="3.1" ry="10.5" transform="rotate(66.6 1475.9 983.7)" fill="none" stroke="#000" stroke-width="1.5"/>
<ellipse cx="1478.1" cy="988.8" rx="3.1" ry="10.5" transform="rotate(66.6 1478.1 988.8)" fill="none" stroke="#000" stroke-width="1.5"/>
<ellipse cx="1480.2" cy="993.9" rx="3.1" ry="10.5" transform="rotate(66.6 1480.2 993.9)" fill="none" stroke="#000" stroke-width="1.5"/>
<ellipse cx="1482.4" cy="998.9" rx="3.1" ry="10.5" transform="rotate(66.6 1482.4 998.9)" fill="none" stroke="#000" stroke-width="1.5"/>
<ellipse cx="1484.6" cy="1004.0" rx="3.1" ry="10.5" transform="rotate(66.6 1484.6 1004.0)" fill="none" stroke="#000" stroke-width="1.5"/>
<ellipse cx="1486.8" cy="1009.1" rx="3.1" ry="10.5" transform="rotate(66.6 1486.8 1009.1)" fill="none" stroke="#000" stroke-width="1.5"/>
<ellipse cx="1489.0" cy="1014.2" rx="3.1" ry="10.5" transform="rotate(66.6 1489.0 1014.2)" fill="none" stroke="#000" stroke-width="1.5"/>
<ellipse cx="1491.2" cy="1019.2" rx="3.1" ry="10.5" transform="rotate(66.6 1491.2 1019.2)" fill="none" stroke="#000" stroke-width="1.5"/>
<ellipse cx="1493.4" cy="1024.3" rx="3.1" ry="10.5" transform="rotate(66.6 1493.4 1024.3)" fill="none" stroke="#000" stroke-width="1.5"/>
<ellipse cx="1495.6" cy="1029.4" rx="3.1" ry="10.5" transform="rotate(66.6 1495.6 1029.4)" fill="none" stroke="#000" stroke-width="1.5"/>
<ellipse cx="1497.8" cy="1034.4" rx="3.1" ry="10.5" transform="rotate(66.6 1497.8 1034.4)" fill="none" stroke="#000" stroke-width="1.5"/>
<ellipse cx="1500.0" cy="1039.5" rx="3.1" ry="10.5" transform="rotate(66.6 1500.0 1039.5)" fill="none" stroke="#000" stroke-width="1.5"/></g>
<g class="p" transform="translate(650,620) scale(0.15625)"><ellipse class="w" cx="946" cy="757" rx="252" ry="368" transform="rotate(13 946 757)"/><ellipse class="w" cx="960" cy="752" rx="252" ry="368" transform="rotate(13 960 752)"/><path style="stroke-width:2" d="M1065,907 L1050,917 L1031,917 L1014,914 L1001,916 L991,930 L981,954 L969,977 L955,988 L940,983 L928,966 L919,947 L909,938 L896,941 L878,953 L860,962 L845,959 L838,941 L838,915 L840,890 L838,872 L828,863 L811,858 L795,848 L787,832 L790,810 L802,788 L815,768 L822,751 L820,733 L811,713 L805,690 L807,668 L819,652 L838,643 L856,638 L869,630 L875,612 L879,587 L885,561 L897,544 L912,541 L929,550 L943,562 L955,566 L967,556 L982,538 L998,521 L1014,516 L1025,528 L1032,551 L1036,575 L1042,589 L1054,592 L1072,589 L1091,589 L1103,599 L1105,620 L1099,646 L1090,670 L1088,689 L1095,703 L1108,716 L1120,734 L1123,754 L1115,774 L1099,791 L1082,804 L1072,818 L1070,836 L1072,861 L1072,887 L1065,907Z"/><ellipse class="w" cx="1082" cy="931" rx="52" ry="60" transform="rotate(44 1082 931)" style="stroke-width:2.1"/><ellipse class="t" cx="1072" cy="934" rx="46" ry="54" transform="rotate(44 1072 934)"/><ellipse class="w" cx="956" cy="1024" rx="52" ry="60" transform="rotate(84 956 1024)" style="stroke-width:2.1"/><ellipse class="t" cx="946" cy="1027" rx="46" ry="54" transform="rotate(84 946 1027)"/><ellipse class="w" cx="829" cy="990" rx="52" ry="60" transform="rotate(124 829 990)" style="stroke-width:2.1"/><ellipse class="t" cx="819" cy="993" rx="46" ry="54" transform="rotate(124 819 993)"/><ellipse class="w" cx="762" cy="844" rx="52" ry="60" transform="rotate(164 762 844)" style="stroke-width:2.1"/><ellipse class="t" cx="752" cy="847" rx="46" ry="54" transform="rotate(164 752 847)"/><ellipse class="w" cx="786" cy="656" rx="52" ry="60" transform="rotate(204 786 656)" style="stroke-width:2.1"/><ellipse class="t" cx="776" cy="659" rx="46" ry="54" transform="rotate(204 776 659)"/><ellipse class="w" cx="889" cy="512" rx="52" ry="60" transform="rotate(244 889 512)" style="stroke-width:2.1"/><ellipse class="t" cx="879" cy="515" rx="46" ry="54" transform="rotate(244 879 515)"/><ellipse class="w" cx="1024" cy="481" rx="52" ry="60" transform="rotate(284 1024 481)" style="stroke-width:2.1"/><ellipse class="t" cx="1014" cy="484" rx="46" ry="54" transform="rotate(284 1014 484)"/><ellipse class="w" cx="1127" cy="576" rx="52" ry="60" transform="rotate(324 1127 576)" style="stroke-width:2.1"/><ellipse class="t" cx="1117" cy="579" rx="46" ry="54" transform="rotate(324 1117 579)"/><ellipse class="w" cx="1150" cy="754" rx="52" ry="60" transform="rotate(364 1150 754)" style="stroke-width:2.1"/><ellipse class="t" cx="1140" cy="757" rx="46" ry="54" transform="rotate(364 1140 757)"/><path d="M1177,875 L1170,884"/><path d="M1046,1058 L1034,1073"/><path d="M874,1098 L857,1114"/><path d="M742,976 L721,988"/><path d="M713,749 L691,754"/><path d="M799,524 L780,522"/><path d="M960,405 L946,399"/><path d="M1122,448 L1113,444"/><path d="M1208,634 L1201,635"/><ellipse class="w" cx="905" cy="745" rx="88" ry="128" transform="rotate(13 905 745)"/><path d="M955,650 C985,700 985,790 940,850 M840,800 L930,830 M850,835 C880,850 890,880 880,900"/><path class="w" d="M1320,112 L1600,195 C1635,205 1640,290 1600,308 C1585,312 1570,310 1560,305 L1290,210 C1265,190 1270,130 1320,112 Z"/><ellipse cx="1583" cy="250" rx="34" ry="56" transform="rotate(15 1583 250)" style="stroke-width:2.6"/><ellipse cx="1585" cy="250" rx="17" ry="29" transform="rotate(15 1585 250)" style="stroke-width:1.4"/><path d="M1360,125 C1335,150 1330,200 1347,228"/><path class="w" d="M1250,760 L1430,815 L1350,1003 L1210,960 C1170,900 1175,790 1250,760 Z"/><path d="M1255,985 L1300,990"/><path class="k" d="M1708,1054 Q1586,1028 1619,1182 L1608,1190 Q1539,1063 1485,1223 L1474,1221 Q1490,1054 1375,1144 L1368,1133 Q1461,1003 1338,982 L1340,966 Q1466,935 1394,812 L1402,800 Q1503,881 1515,714 L1526,711 Q1555,867 1645,734 L1654,742 Q1597,900 1723,863 L1726,877 Q1609,963 1713,1039Z"/><path class="w" style="stroke-width:2" d="M1742,1043 Q1620,1017 1653,1171 L1642,1179 Q1573,1052 1519,1212 L1508,1210 Q1524,1043 1409,1133 L1402,1122 Q1495,992 1372,971 L1374,955 Q1500,924 1428,801 L1436,789 Q1537,870 1549,703 L1560,700 Q1589,856 1679,723 L1688,731 Q1631,889 1757,852 L1760,866 Q1643,952 1747,1028Z"/><ellipse cx="1609" cy="1013" rx="24" ry="40" transform="rotate(132 1609 1013)" style="stroke-width:3.2"/><ellipse cx="1622" cy="1019" rx="26" ry="44" transform="rotate(132 1622 1019)" style="stroke-width:1.6"/><ellipse cx="1565" cy="1046" rx="24" ry="40" transform="rotate(172 1565 1046)" style="stroke-width:3.2"/><ellipse cx="1573" cy="1056" rx="26" ry="44" transform="rotate(172 1573 1056)" style="stroke-width:1.6"/><ellipse cx="1518" cy="1037" rx="24" ry="40" transform="rotate(212 1518 1037)" style="stroke-width:3.2"/><ellipse cx="1522" cy="1046" rx="26" ry="44" transform="rotate(212 1522 1046)" style="stroke-width:1.6"/><ellipse cx="1491" cy="990" rx="24" ry="40" transform="rotate(252 1491 990)" style="stroke-width:3.2"/><ellipse cx="1492" cy="993" rx="26" ry="44" transform="rotate(252 1492 993)" style="stroke-width:1.6"/><ellipse cx="1497" cy="926" rx="24" ry="40" transform="rotate(292 1497 926)" style="stroke-width:3.2"/><ellipse cx="1498" cy="923" rx="26" ry="44" transform="rotate(292 1498 923)" style="stroke-width:1.6"/><ellipse cx="1531" cy="876" rx="24" ry="40" transform="rotate(332 1531 876)" style="stroke-width:3.2"/><ellipse cx="1536" cy="867" rx="26" ry="44" transform="rotate(332 1536 867)" style="stroke-width:1.6"/><ellipse cx="1580" cy="863" rx="24" ry="40" transform="rotate(372 1580 863)" style="stroke-width:3.2"/><ellipse cx="1590" cy="852" rx="26" ry="44" transform="rotate(372 1590 852)" style="stroke-width:1.6"/><ellipse cx="1619" cy="893" rx="24" ry="40" transform="rotate(412 1619 893)" style="stroke-width:3.2"/><ellipse cx="1633" cy="886" rx="26" ry="44" transform="rotate(412 1633 886)" style="stroke-width:1.6"/><ellipse cx="1630" cy="952" rx="24" ry="40" transform="rotate(452 1630 952)" style="stroke-width:3.2"/><ellipse cx="1646" cy="952" rx="26" ry="44" transform="rotate(452 1646 952)" style="stroke-width:1.6"/><ellipse cx="1558" cy="955" rx="30" ry="44" style="stroke-width:3"/></g>
<g class="ld">
<line x1="594.6" y1="147.0" x2="599.0" y2="236.0"/><polygon points="600.0,257.0 594.9,236.2 603.1,235.8"/>
<line x1="509.4" y1="182.5" x2="551.6" y2="278.8"/><polygon points="560.0,298.0 547.8,280.4 555.3,277.1"/>
<line x1="873.8" y1="289.7" x2="865.6" y2="449.0"/><polygon points="864.5,470.0 861.5,448.8 869.7,449.2"/>
<line x1="940.8" y1="271.1" x2="924.3" y2="374.3"/><polygon points="921.0,395.0 920.3,373.6 928.4,374.9"/>
<line x1="1154.2" y1="262.6" x2="1127.9" y2="422.8"/><polygon points="1124.5,443.5 1123.9,422.1 1131.9,423.4"/>
<line x1="1215.2" y1="331.8" x2="1141.2" y2="472.9"/><polygon points="1131.5,491.5 1137.6,471.0 1144.9,474.8"/>
<line x1="1298.9" y1="309.2" x2="1168.9" y2="486.1"/><polygon points="1156.5,503.0 1165.6,483.7 1172.2,488.5"/>
<line x1="1310.1" y1="392.3" x2="1272.5" y2="562.0"/><polygon points="1268.0,582.5 1268.5,561.1 1276.5,562.9"/>
<line x1="1395.3" y1="375.3" x2="1353.2" y2="652.2"/><polygon points="1350.0,673.0 1349.1,651.6 1357.2,652.9"/>
<line x1="1472.0" y1="340.4" x2="1439.9" y2="661.6"/><polygon points="1437.8,682.5 1435.8,661.2 1444.0,662.0"/>
<line x1="1504.7" y1="426.2" x2="1474.9" y2="638.7"/><polygon points="1472.0,659.5 1470.9,638.1 1479.0,639.3"/>
<line x1="1422.7" y1="469.7" x2="1423.5" y2="632.5"/><polygon points="1423.6,653.5 1419.4,632.5 1427.6,632.5"/>
<line x1="1333.1" y1="496.1" x2="1303.9" y2="641.4"/><polygon points="1299.8,662.0 1299.9,640.6 1308.0,642.2"/>
<line x1="1245.0" y1="469.1" x2="1217.1" y2="579.6"/><polygon points="1212.0,600.0 1213.2,578.6 1221.1,580.6"/>
<line x1="1179.8" y1="589.0" x2="1181.6" y2="629.0"/><polygon points="1182.5,650.0 1177.5,629.2 1185.7,628.8"/>
<line x1="1613.8" y1="620.0" x2="1558.2" y2="641.4"/><polygon points="1538.6,649.0 1556.7,637.6 1559.7,645.3"/>
<line x1="357.2" y1="352.6" x2="475.4" y2="465.5"/><polygon points="490.6,480.0 472.6,468.5 478.2,462.5"/>
<line x1="467.3" y1="350.6" x2="577.9" y2="496.3"/><polygon points="590.6,513.0 574.6,498.8 581.2,493.8"/>
<line x1="315.1" y1="400.7" x2="382.6" y2="446.0"/><polygon points="400.0,457.7 380.3,449.4 384.9,442.6"/>
<line x1="232.4" y1="460.9" x2="473.7" y2="533.6"/><polygon points="493.8,539.7 472.5,537.6 474.9,529.7"/>
<line x1="713.2" y1="463.5" x2="702.1" y2="432.5"/><polygon points="695.0,412.7 705.9,431.1 698.2,433.9"/>
<line x1="851.8" y1="561.6" x2="856.1" y2="616.4"/><polygon points="857.8,637.3 852.1,616.7 860.2,616.0"/>
<line x1="251.4" y1="593.9" x2="266.1" y2="586.2"/><polygon points="284.8,576.6 268.0,589.9 264.3,582.6"/>
<line x1="338.8" y1="691.2" x2="466.9" y2="646.0"/><polygon points="486.7,639.0 468.3,649.9 465.5,642.1"/>
<line x1="435.0" y1="775.6" x2="555.4" y2="746.7"/><polygon points="575.8,741.8 556.3,750.7 554.4,742.7"/>
<line x1="595.6" y1="848.8" x2="662.1" y2="767.8"/><polygon points="675.4,751.6 665.3,770.4 658.9,765.2"/>
<line x1="694.0" y1="907.4" x2="892.3" y2="644.8"/><polygon points="905.0,628.0 895.6,647.2 889.1,642.3"/>
<line x1="793.4" y1="890.7" x2="851.9" y2="822.0"/><polygon points="865.5,806.0 855.0,824.6 848.8,819.3"/>
<line x1="864.7" y1="941.6" x2="944.8" y2="822.0"/><polygon points="956.5,804.5 948.2,824.2 941.4,819.7"/>
<line x1="778.7" y1="994.4" x2="967.7" y2="714.4"/><polygon points="979.5,697.0 971.1,716.7 964.4,712.1"/>
<line x1="842.9" y1="1055.9" x2="988.5" y2="793.9"/><polygon points="998.7,775.5 992.1,795.8 984.9,791.9"/>
<line x1="911.0" y1="1010.6" x2="984.3" y2="836.8"/><polygon points="992.5,817.5 988.1,838.4 980.6,835.3"/>
<line x1="944.4" y1="1075.1" x2="996.2" y2="878.3"/><polygon points="1001.5,858.0 1000.1,879.4 992.2,877.3"/>
<line x1="1013.1" y1="980.8" x2="1058.0" y2="852.8"/><polygon points="1065.0,833.0 1061.9,854.2 1054.2,851.5"/>
<line x1="1076.8" y1="950.7" x2="1096.4" y2="838.7"/><polygon points="1100.0,818.0 1100.4,839.4 1092.3,838.0"/>
<line x1="1059.7" y1="757.2" x2="1067.1" y2="741.5"/><polygon points="1076.0,722.5 1070.8,743.2 1063.3,739.8"/>
<line x1="1258.5" y1="917.4" x2="1199.9" y2="748.8"/><polygon points="1193.0,729.0 1203.8,747.5 1196.0,750.2"/>
<line x1="1286.2" y1="1046.8" x2="1124.9" y2="810.8"/><polygon points="1113.0,793.5 1128.2,808.5 1121.5,813.1"/>
<line x1="1284.8" y1="1047.8" x2="1149.4" y2="873.1"/><polygon points="1136.5,856.5 1152.6,870.6 1146.1,875.6"/>
<line x1="1051.6" y1="1102.7" x2="1055.6" y2="1074.2"/><polygon points="1058.6,1053.4 1059.7,1074.8 1051.6,1073.6"/>
<line x1="1186.9" y1="1213.5" x2="1206.1" y2="1166.4"/><polygon points="1214.0,1147.0 1209.9,1168.0 1202.3,1164.9"/>
<line x1="1471.5" y1="1141.5" x2="1462.9" y2="1107.0"/><polygon points="1457.8,1086.6 1466.9,1106.0 1458.9,1108.0"/>
<line x1="1564.6" y1="1100.8" x2="1519.0" y2="1059.0"/><polygon points="1503.5,1044.8 1521.7,1056.0 1516.2,1062.0"/>
<line x1="1664.8" y1="1065.1" x2="1634.5" y2="1038.8"/><polygon points="1618.7,1025.0 1637.2,1035.7 1631.9,1041.9"/>
<line x1="1643.0" y1="836.6" x2="1624.1" y2="845.3"/><polygon points="1605.0,854.0 1622.4,841.5 1625.8,849.0"/>
</g>
<g class="co">
<circle cx="593.1" cy="117.3" r="29.7"/><text x="593.1" y="126.2">35</text>
<circle cx="497.5" cy="155.3" r="29.7"/><text x="497.5" y="164.2">3</text>
<circle cx="875.3" cy="260.0" r="29.7"/><text x="875.3" y="268.9">23</text>
<circle cx="945.5" cy="241.8" r="29.7"/><text x="945.5" y="250.7">1</text>
<circle cx="1159.0" cy="233.3" r="29.7"/><text x="1159.0" y="242.2">19</text>
<circle cx="1229.0" cy="305.5" r="29.7"/><text x="1229.0" y="314.4">21</text>
<circle cx="1316.5" cy="285.3" r="29.7"/><text x="1316.5" y="294.2">8</text>
<circle cx="1316.5" cy="363.3" r="29.7"/><text x="1316.5" y="372.2">22</text>
<circle cx="1399.8" cy="345.9" r="29.7"/><text x="1399.8" y="354.8">12</text>
<circle cx="1475.0" cy="310.8" r="29.7"/><text x="1475.0" y="319.7">30</text>
<circle cx="1508.8" cy="396.8" r="29.7"/><text x="1508.8" y="405.7">17</text>
<circle cx="1422.5" cy="440.0" r="29.7"/><text x="1422.5" y="448.9">11</text>
<circle cx="1339.0" cy="467.0" r="29.7"/><text x="1339.0" y="475.9">33</text>
<circle cx="1252.3" cy="440.3" r="29.7"/><text x="1252.3" y="449.2">7</text>
<circle cx="1178.5" cy="559.3" r="29.7"/><text x="1178.5" y="568.2">17</text>
<circle cx="1641.5" cy="609.3" r="29.7"/><text x="1641.5" y="618.2">6</text>
<circle cx="335.7" cy="332.1" r="29.7"/><text x="335.7" y="341.0">32</text>
<circle cx="449.3" cy="326.9" r="29.7"/><text x="449.3" y="335.8">39</text>
<circle cx="290.5" cy="384.1" r="29.7"/><text x="290.5" y="393.0">10</text>
<circle cx="204.0" cy="452.3" r="29.7"/><text x="204.0" y="461.2">37</text>
<circle cx="723.2" cy="491.5" r="29.7"/><text x="723.2" y="500.4">36</text>
<circle cx="849.5" cy="532.0" r="29.7"/><text x="849.5" y="540.9">20</text>
<circle cx="225.0" cy="607.5" r="29.7"/><text x="225.0" y="616.4">13</text>
<circle cx="310.8" cy="701.1" r="29.7"/><text x="310.8" y="710.0">16</text>
<circle cx="406.1" cy="782.5" r="29.7"/><text x="406.1" y="791.4">9</text>
<circle cx="576.8" cy="871.8" r="29.7"/><text x="576.8" y="880.7">4</text>
<circle cx="676.1" cy="931.1" r="29.7"/><text x="676.1" y="940.0">41</text>
<circle cx="774.1" cy="913.3" r="29.7"/><text x="774.1" y="922.2">5</text>
<circle cx="848.2" cy="966.3" r="29.7"/><text x="848.2" y="975.2">29</text>
<circle cx="762.1" cy="1019.0" r="29.7"/><text x="762.1" y="1027.9">27</text>
<circle cx="828.5" cy="1081.9" r="29.7"/><text x="828.5" y="1090.8">15</text>
<circle cx="899.5" cy="1038.0" r="29.7"/><text x="899.5" y="1046.9">14</text>
<circle cx="936.8" cy="1103.8" r="29.7"/><text x="936.8" y="1112.7">24</text>
<circle cx="1003.3" cy="1008.8" r="29.7"/><text x="1003.3" y="1017.7">18</text>
<circle cx="1071.7" cy="980.0" r="29.7"/><text x="1071.7" y="988.9">26</text>
<circle cx="1047.0" cy="784.1" r="29.7"/><text x="1047.0" y="793.0">31</text>
<circle cx="1268.3" cy="945.5" r="29.7"/><text x="1268.3" y="954.4">34</text>
<circle cx="1303.0" cy="1071.3" r="29.7"/><text x="1303.0" y="1080.2">25</text>
<circle cx="1047.4" cy="1132.1" r="29.7"/><text x="1047.4" y="1141.0">38</text>
<circle cx="1175.7" cy="1241.0" r="29.7"/><text x="1175.7" y="1249.9">42</text>
<circle cx="1478.7" cy="1170.3" r="29.7"/><text x="1478.7" y="1179.2">2</text>
<circle cx="1586.5" cy="1120.9" r="29.7"/><text x="1586.5" y="1129.8">28</text>
<circle cx="1687.2" cy="1084.6" r="29.7"/><text x="1687.2" y="1093.5">43</text>
<circle cx="1670.0" cy="824.3" r="29.7"/><text x="1670.0" y="833.2">40</text>
</g>
</svg>
<div class="pg">6</div>
</body></html>
